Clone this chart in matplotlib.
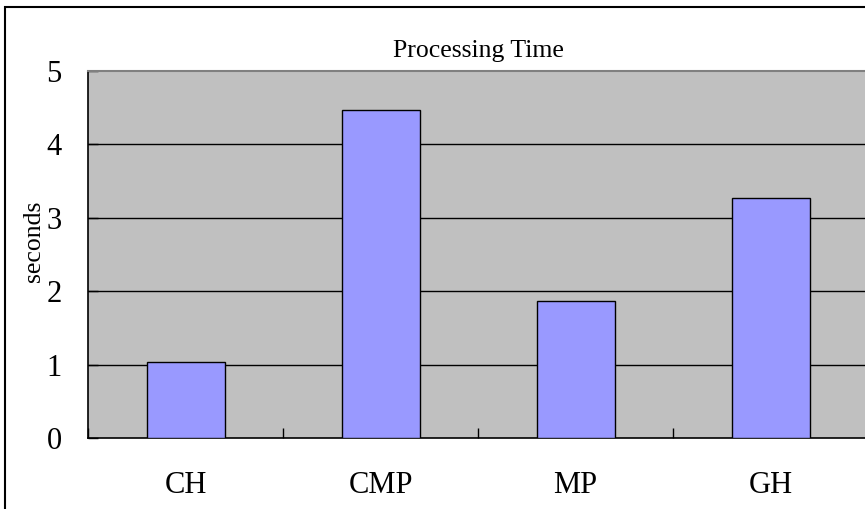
import matplotlib
matplotlib.use("Agg")
import matplotlib.pyplot as plt
from matplotlib.patches import Rectangle
from matplotlib.ticker import FixedLocator, NullFormatter, FixedFormatter

categories = ["CH", "CMP", "MP", "GH"]
seconds = [1.04, 4.47, 1.87, 3.27]
y_ticks = [0, 1, 2, 3, 4, 5]

W, H = 865, 509
fig = plt.figure(figsize=(W / 100, H / 100), dpi=100)
plt.rcParams["font.family"] = ["Liberation Serif", "DejaVu Serif"]

# outer chart border (runs off the right and bottom edges)
fig.patches.append(Rectangle((5 / W, -0.1), 1.2, 1 - 7 / H + 0.1,
                             transform=fig.transFigure, fill=False,
                             edgecolor="black", linewidth=1.5))

left, right = 88 / W, 868 / W
top, bottom = 1 - 71 / H, 1 - 438 / H
ax = fig.add_axes([left, bottom, right - left, top - bottom])
ax.set_facecolor("#C0C0C0")

x = list(range(len(categories)))
ax.bar(x, seconds, width=0.4, color="#9999FF", edgecolor="black",
       linewidth=1.0, zorder=3)

ax.set_xlim(-0.5, len(categories) - 0.5)
ax.set_ylim(0, 5)

# gridlines
for v in y_ticks[1:-1]:
    ax.axhline(v, color="black", linewidth=1.0, zorder=1)

ax.set_yticks(y_ticks)
ax.set_yticklabels([str(v) for v in y_ticks])
ax.tick_params(axis="y", direction="in", length=7.5, width=1.0,
               labelsize=22, pad=19)

# category boundary ticks (major) and centred labels (minor)
bounds = [i - 0.5 for i in range(len(categories) + 1)]
ax.xaxis.set_major_locator(FixedLocator(bounds))
ax.xaxis.set_major_formatter(NullFormatter())
ax.xaxis.set_minor_locator(FixedLocator(x))
ax.xaxis.set_minor_formatter(FixedFormatter(categories))
ax.tick_params(axis="x", which="major", direction="in", length=7.5, width=1.0)
ax.tick_params(axis="x", which="minor", length=0, labelsize=22, pad=24)

for s in ("left", "bottom"):
    ax.spines[s].set_color("black")
    ax.spines[s].set_linewidth(1.2)
ax.spines["top"].set_color("#808080")
ax.spines["top"].set_linewidth(1.5)
ax.spines["right"].set_color("#808080")

ax.set_ylabel("seconds", fontsize=18.5)
ax.yaxis.set_label_coords(-0.055, 0.535)
ax.set_title("Processing Time", fontsize=18.5, pad=10)

fig.savefig("out.png", dpi=100)
